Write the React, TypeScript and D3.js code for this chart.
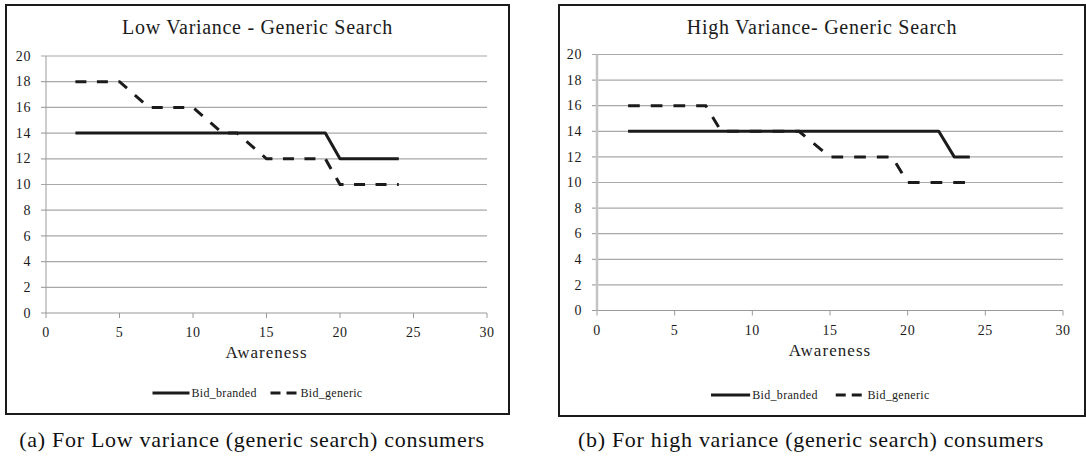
import React from "react";
import * as d3 from "d3";

// Awareness / bid series (vertices of each step line)
const lowBrandedAwareness = [2, 19, 20, 24];
const lowBrandedBid = [14, 14, 12, 12];
const lowGenericAwareness = [2, 5, 7, 10, 12, 13, 15, 19, 20, 24];
const lowGenericBid = [18, 18, 16, 16, 14, 14, 12, 12, 10, 10];

const highBrandedAwareness = [2, 22, 23, 24];
const highBrandedBid = [14, 14, 12, 12];
const highGenericAwareness = [2, 7, 8, 13, 15, 19, 20, 24];
const highGenericBid = [16, 16, 14, 14, 12, 12, 10, 10];

const awarenessTicks = [0, 5, 10, 15, 20, 25, 30];
const bidTicks = [0, 2, 4, 6, 8, 10, 12, 14, 16, 18, 20];

const seriesNames = ["Bid_branded", "Bid_generic"];
const panelTitles = ["Low Variance - Generic Search", "High Variance- Generic Search"];
const captions = [
  "(a) For Low variance (generic search) consumers",
  "(b) For high variance (generic search) consumers",
];

const chartFont = "'Liberation Serif', 'Times New Roman', serif";
const ink = "#1b1b1b";

type Layout = {
  box: [number, number, number, number];
  plot: [number, number, number, number]; // x0, x1, yTop, yBottom
  axisColor: string;
  axisWidth: number;
  dash: string;
  stretch: number;
  captionX: number;
};

type Panel = {
  title: string;
  caption: string;
  branded: { x: number[]; y: number[] };
  generic: { x: number[]; y: number[] };
  layout: Layout;
};

const panels: Panel[] = [
  {
    title: panelTitles[0],
    caption: captions[0],
    branded: { x: lowBrandedAwareness, y: lowBrandedBid },
    generic: { x: lowGenericAwareness, y: lowGenericBid },
    layout: {
      box: [6, 5, 503, 409],
      plot: [46, 487, 56, 313],
      axisColor: "#9a9a9a",
      axisWidth: 1,
      dash: "11 10.5",
      stretch: 1,
      captionX: 252,
    },
  },
  {
    title: panelTitles[1],
    caption: captions[1],
    branded: { x: highBrandedAwareness, y: highBrandedBid },
    generic: { x: highGenericAwareness, y: highGenericBid },
    layout: {
      box: [559, 5, 526, 411],
      plot: [597, 1063, 54.5, 310.5],
      axisColor: "#c4c4c4",
      axisWidth: 2.5,
      dash: "11.7 11",
      stretch: 1.057,
      captionX: 811,
    },
  },
];

function ChartPanel({ p }: { p: Panel }) {
  const [bx, by, bw, bh] = p.layout.box;
  const [x0, x1, yt, yb] = p.layout.plot;
  const s = p.layout.stretch;
  const x = d3.scaleLinear().domain([0, 30]).range([x0, x1]);
  const y = d3.scaleLinear().domain([0, 20]).range([yb, yt]);
  const line = d3
    .line<[number, number]>()
    .x((d) => x(d[0]))
    .y((d) => y(d[1]));
  const pts = (ser: { x: number[]; y: number[] }) =>
    ser.x.map((v, i) => [v, ser.y[i]] as [number, number]);
  const cx = bx + bw / 2;
  const legendY = by + bh - 21;
  const legendX = cx - 105 * s;

  return (
    <g>
      <rect x={bx} y={by} width={bw} height={bh} fill="#fff" stroke={ink} strokeWidth={2} />
      <text
        x={cx}
        y={by + 29}
        textAnchor="middle"
        fontFamily={chartFont}
        fontSize={20}
        letterSpacing={0.7 * s}
        fill={ink}
      >
        {p.title}
      </text>
      {bidTicks.map((t) => (
        <g key={"y" + t}>
          {t > 0 && (
            <line x1={x0 - 5} x2={x1} y1={y(t)} y2={y(t)} stroke="#a8a8a8" strokeWidth={1.2} />
          )}
          {t === 0 && <line x1={x0 - 5} x2={x0} y1={y(t)} y2={y(t)} stroke="#9a9a9a" />}
          <text
            x={x0 - 15}
            y={y(t)}
            dy="0.33em"
            textAnchor="end"
            fontFamily={chartFont}
            fontSize={14}
            letterSpacing={0.6}
            fill={ink}
          >
            {t}
          </text>
        </g>
      ))}
      <line x1={x0} x2={x1} y1={yb} y2={yb} stroke="#9a9a9a" strokeWidth={1.2} />
      <line x1={x0} x2={x0} y1={yt} y2={yb} stroke={p.layout.axisColor} strokeWidth={p.layout.axisWidth} />
      {awarenessTicks.map((t) => (
        <g key={"x" + t}>
          <line x1={x(t)} x2={x(t)} y1={yb} y2={yb + 5} stroke="#9a9a9a" />
          <text
            x={x(t)}
            y={yb + 24}
            textAnchor="middle"
            fontFamily={chartFont}
            fontSize={14}
            letterSpacing={0.6}
            fill={ink}
          >
            {t}
          </text>
        </g>
      ))}
      <text
        x={(x0 + x1) / 2}
        y={yb + 45}
        textAnchor="middle"
        fontFamily={chartFont}
        fontSize={17}
        letterSpacing={1 * s}
        fill={ink}
      >
        Awareness
      </text>
      <path d={line(pts(p.branded)) || ""} fill="none" stroke={ink} strokeWidth={3} strokeLinejoin="round" />
      <path
        d={line(pts(p.generic)) || ""}
        fill="none"
        stroke={ink}
        strokeWidth={3}
        strokeDasharray={p.layout.dash}
      />
      <g>
        <line x1={legendX} x2={legendX + 37 * s} y1={legendY} y2={legendY} stroke={ink} strokeWidth={3} />
        <text
          x={legendX + 39 * s}
          y={legendY}
          dy="0.33em"
          fontFamily={chartFont}
          fontSize={12}
          letterSpacing={0.3 * s}
          fill={ink}
        >
          {seriesNames[0]}
        </text>
        <line
          x1={legendX + 118 * s}
          x2={legendX + 144 * s}
          y1={legendY}
          y2={legendY}
          stroke={ink}
          strokeWidth={3}
          strokeDasharray="10 6"
        />
        <text
          x={legendX + 148 * s}
          y={legendY}
          dy="0.33em"
          fontFamily={chartFont}
          fontSize={12}
          letterSpacing={0.3 * s}
          fill={ink}
        >
          {seriesNames[1]}
        </text>
      </g>
      <text
        x={p.layout.captionX}
        y={447}
        textAnchor="middle"
        fontFamily={chartFont}
        fontSize={22}
        letterSpacing={0.7}
        fill="#111"
      >
        {p.caption}
      </text>
    </g>
  );
}

export default function App() {
  return (
    <svg
      width={1086}
      height={463}
      style={{ position: "absolute", left: 0, top: 0, background: "#fff" }}
    >
      <rect width={1086} height={463} fill="#fff" />
      {panels.map((p, i) => (
        <ChartPanel key={i} p={p} />
      ))}
    </svg>
  );
}
